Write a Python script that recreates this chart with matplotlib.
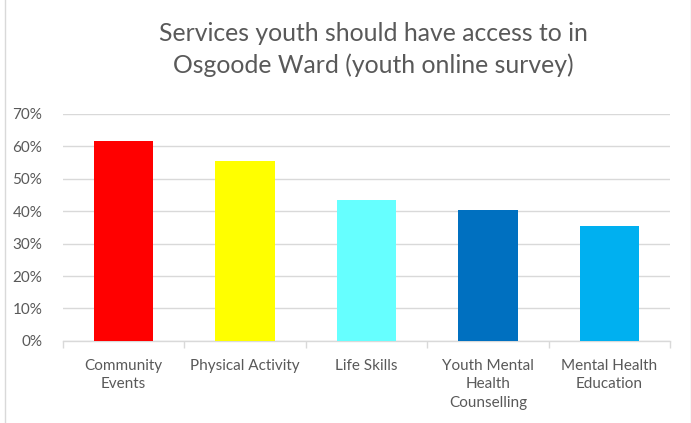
import numpy as np
import matplotlib.pyplot as plt
from matplotlib.patches import Rectangle

# Survey results: share of youth choosing each service
categories = ['Community\nEvents', 'Physical Activity', 'Life Skills',
              'Youth Mental\nHealth\nCounselling', 'Mental Health\nEducation']
shares = [0.616, 0.555, 0.435, 0.405, 0.355]
bar_colors = ['#FF0000', '#FFFF00', '#66FFFF', '#0070C0', '#00B0F0']
y_ticks = [0.0, 0.1, 0.2, 0.3, 0.4, 0.5, 0.6, 0.7]

plt.rcParams['font.family'] = ['Lato', 'DejaVu Sans']

fig = plt.figure(figsize=(6.91, 4.23), dpi=100)
ax = fig.add_axes([0.0912, 0.194, 0.8784, 0.537])

x = np.arange(len(categories))
ax.bar(x, shares, width=0.49, color=bar_colors, zorder=3)

ax.set_xlim(-0.5, len(categories) - 0.5)
ax.set_ylim(0, 0.7)
ax.set_yticks(y_ticks)
ax.set_yticklabels([f'{int(round(t * 100))}%' for t in y_ticks])
ax.yaxis.grid(True, color='#D9D9D9', linewidth=1.0, zorder=0)
ax.tick_params(axis='y', length=0, pad=15, labelsize=11, labelcolor='#595959')

# category labels centred under bars, tick marks on the category boundaries
ax.set_xticks(x)
ax.set_xticklabels(categories, linespacing=1.4)
ax.set_xticks(np.arange(-0.5, len(categories)), minor=True)
ax.tick_params(axis='x', which='major', length=0, pad=13, labelsize=11,
               labelcolor='#595959')
ax.tick_params(axis='x', which='minor', length=5, color='#D9D9D9', width=1.0)
for lbl in ax.get_xticklabels():
    lbl.set_verticalalignment('top')

for side in ['top', 'right', 'left']:
    ax.spines[side].set_visible(False)
ax.spines['bottom'].set_color('#D9D9D9')
ax.spines['bottom'].set_linewidth(1.0)

fig.text(0.54, 0.883, 'Services youth should have access to in\nOsgoode Ward (youth online survey)',
         ha='center', va='center', fontsize=17.8, color='#595959',
         linespacing=1.45)

# light chart border
fig.patches.append(Rectangle((0.007, -0.01), 0.993, 1.02, transform=fig.transFigure,
                             fill=False, edgecolor='#D9D9D9', linewidth=1.0))

fig.savefig('out.png', dpi=100)
